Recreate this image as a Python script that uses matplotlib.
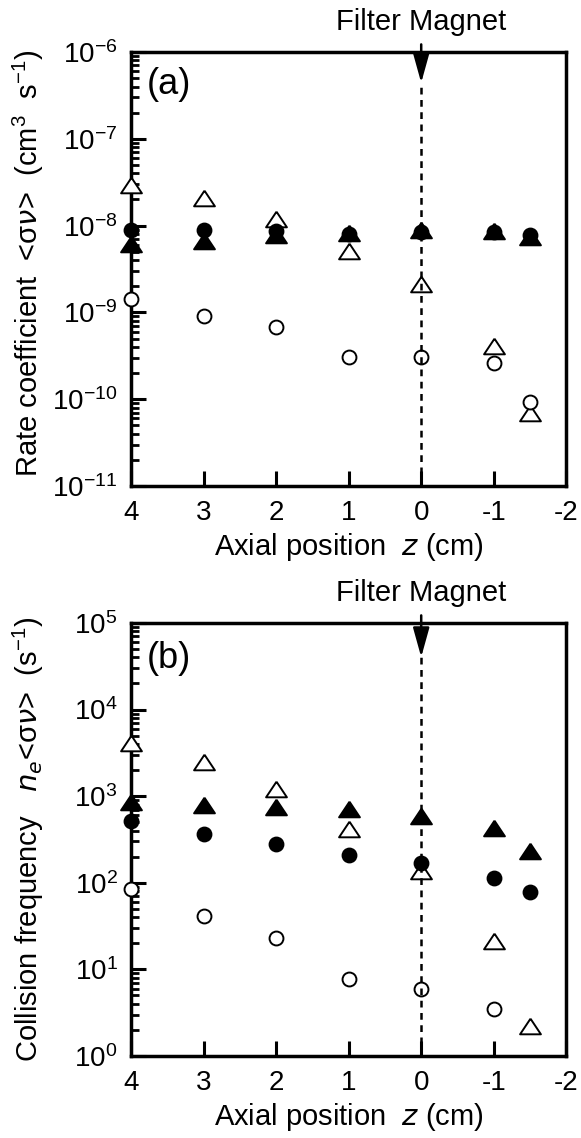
import matplotlib
matplotlib.use("Agg")
import matplotlib.pyplot as plt
import numpy as np
from matplotlib.ticker import LogLocator, FixedLocator, NullFormatter

plt.rcParams['font.family'] = ['Liberation Sans', 'DejaVu Sans']
plt.rcParams['mathtext.default'] = 'regular'

# axial positions (cm)
z = [4, 3, 2, 1, 0, -1, -1.5]

# (a) rate coefficient <sigma v> (cm^3 s^-1)
a_filled_circle = [9.0e-9, 9.0e-9, 8.7e-9, 8.0e-9, 8.5e-9, 8.5e-9, 7.7e-9]
a_filled_tri = [6.2e-9, 6.7e-9, 7.7e-9, 8.2e-9, 9.0e-9, 8.7e-9, 7.4e-9]
a_open_tri = [2.9e-8, 2.1e-8, 1.2e-8, 5.1e-9, 2.1e-9, 4.1e-10, 6.9e-11]
a_open_circle = [1.44e-9, 9.1e-10, 6.8e-10, 3.1e-10, 3.1e-10, 2.6e-10, 9.3e-11]

# (b) collision frequency n_e<sigma v> (s^-1)
b_filled_circle = [520, 370, 280, 210, 170, 112, 79]
b_filled_tri = [860, 790, 750, 710, 590, 430, 230]
b_open_tri = [4100, 2450, 1200, 420, 138, 21, 2.2]
b_open_circle = [85, 41, 23, 7.8, 5.9, 3.5, np.nan]

fig = plt.figure(figsize=(5.81, 11.38), dpi=100)
ax_a = fig.add_axes([0.2263, 0.5729, 0.748, 0.3814])
ax_b = fig.add_axes([0.2263, 0.0721, 0.748, 0.3805])

fs = 20

# wide, flat triangle like the original symbols
tri = [(0, 0.75), (-1, -0.75), (1, -0.75), (0, 0.75)]


def draw_panel(ax, fc, ft, ot, oc, ylim, label, ylabel, tip, label_y, ylab_y):
    kw = dict(linestyle='none', markeredgecolor='black', markeredgewidth=1.4,
              clip_on=False, zorder=3)
    ax.plot(z, ot, marker=tri, markerfacecolor='white', markersize=15, **kw)
    ax.plot(z, oc, marker='o', markerfacecolor='white', markersize=10, **kw)
    ax.plot(z, ft, marker=tri, markerfacecolor='black', markersize=15, **kw)
    ax.plot(z, fc, marker='o', markerfacecolor='black', markersize=10, **kw)

    ax.set_yscale('log')
    ax.set_ylim(*ylim)
    ax.set_xlim(4, -2)
    ax.xaxis.set_major_locator(FixedLocator([4, 3, 2, 1, 0, -1, -2]))
    ax.set_xticklabels(['4', '3', '2', '1', '0', '-1', '-2'])
    ax.yaxis.set_major_locator(LogLocator(base=10, numticks=20))
    ax.yaxis.set_minor_locator(LogLocator(base=10, subs=np.arange(2, 10), numticks=20))
    ax.yaxis.set_minor_formatter(NullFormatter())

    for s in ax.spines.values():
        s.set_linewidth(2.5)
    ax.tick_params(axis='both', which='both', direction='in', top=False, right=False)
    ax.tick_params(axis='y', which='major', length=11, width=2.2, pad=10, labelsize=fs)
    ax.tick_params(axis='y', which='minor', length=6, width=2.0)
    ax.tick_params(axis='x', which='major', length=11, width=2.2, pad=10, labelsize=fs)

    ax.set_xlabel(r'Axial position  $\it{z}$ (cm)', fontsize=fs + 1, labelpad=4)
    ax.set_ylabel(ylabel, fontsize=fs + 1, va='center')
    ax.yaxis.set_label_coords(-0.238, ylab_y)

    ax.text(0.034, label_y, label, transform=ax.transAxes, fontsize=26,
            va='center', ha='left')

    # filter magnet position
    ax.axvline(0, ymin=0, ymax=tip, color='black', linewidth=1.8,
               dashes=(2.7, 2.2), zorder=4)
    ax.annotate('Filter Magnet', xy=(0, tip), xycoords=('data', 'axes fraction'),
                xytext=(0, 1.069), textcoords=('data', 'axes fraction'),
                ha='center', va='center', fontsize=fs + 1, annotation_clip=False,
                arrowprops=dict(arrowstyle='-|>,head_length=1.8,head_width=0.5',
                                color='black', linewidth=1.8, mutation_scale=10,
                                shrinkA=4, shrinkB=0))


draw_panel(ax_a, a_filled_circle, a_filled_tri, a_open_tri, a_open_circle,
           (1e-11, 1e-6), '(a)',
           r'Rate coefficient  <$\sigma\it{\nu}$>  (cm$^3$  s$^{-1}$)',
           0.929, 0.924, 0.514)
draw_panel(ax_b, b_filled_circle, b_filled_tri, b_open_tri, b_open_circle,
           (1, 1e5), '(b)',
           r'Collision frequency   $\it{n}_e$<$\sigma\it{\nu}$>  (s$^{-1}$)',
           0.921, 0.919, 0.499)

plt.savefig('out.png', dpi=100)
plt.close(fig)
